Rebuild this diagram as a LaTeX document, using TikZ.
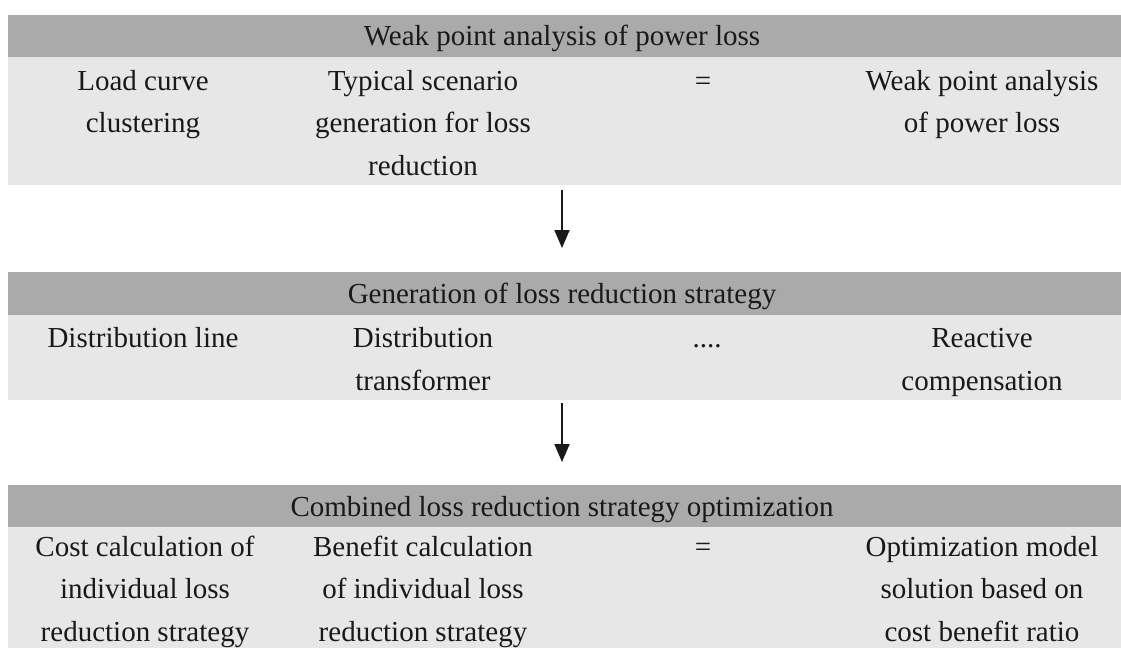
\documentclass[tikz,border=0pt]{standalone}
\usepackage{fontspec}
\setmainfont{Liberation Serif}
\usetikzlibrary{arrows.meta}
\definecolor{headgray}{RGB}{170,170,170}
\definecolor{bodygray}{RGB}{231,231,231}
\begin{document}
\begin{tikzpicture}[x=1pt,y=1pt,
  headbar/.style={fill=headgray, draw=none, rectangle, inner sep=0pt, anchor=north west, minimum width=1113pt},
  bodybar/.style={fill=bodygray, draw=none, rectangle, inner sep=0pt, anchor=north west, minimum width=1113pt},
  headtext/.style={font=\fontsize{29}{42.5}\selectfont, inner sep=0pt, anchor=base, text=black!90},
  celltext/.style={font=\fontsize{29}{42.5}\selectfont, inner sep=0pt, anchor=north, align=center, text=black!90},
  flowarrow/.style={line width=1.8pt, black!90, -{Triangle[width=15pt,length=18pt]}}
]
\useasboundingbox (0,0) rectangle (1121,-648);

% block 1
\node[headbar, minimum height=42pt] (h1) at (8,-15) {};
\node[bodybar, minimum height=128pt] (b1) at (8,-57) {};
\node[headtext] (t1) at (562,-45.5) {Weak point analysis of power loss};
\node[celltext] (c11) at (143,-60.25) {\strut Load curve\\clustering};
\node[celltext] (c12) at (423,-60.25) {\strut Typical scenario\\generation for loss\\reduction};
\node[celltext] (c13) at (703,-60.25) {\strut =};
\node[celltext] (c14) at (982,-60.25) {\strut Weak point analysis\\of power loss};

% arrow 1
\coordinate (a1s) at (562,-190);
\coordinate (a1e) at (562,-248);
\draw[flowarrow] (a1s) -- (a1e);

% block 2
\node[headbar, minimum height=43pt] (h2) at (8,-272) {};
\node[bodybar, minimum height=85pt] (b2) at (8,-315) {};
\node[headtext] (t2) at (562,-303) {Generation of loss reduction strategy};
\node[celltext] (c21) at (143,-318) {\strut Distribution line};
\node[celltext] (c22) at (423,-318) {\strut Distribution\\transformer};
\node[celltext] (c23) at (707,-318) {\strut ....};
\node[celltext] (c24) at (982,-318) {\strut Reactive\\compensation};

% arrow 2
\coordinate (a2s) at (562,-403);
\coordinate (a2e) at (562,-462);
\draw[flowarrow] (a2s) -- (a2e);

% block 3
\node[headbar, minimum height=42pt] (h3) at (8,-485) {};
\node[bodybar, minimum height=121pt] (b3) at (8,-527) {};
\node[headtext] (t3) at (562,-516) {Combined loss reduction strategy optimization};
\node[celltext] (c31) at (145,-526.5) {\strut Cost calculation of\\individual loss\\reduction strategy};
\node[celltext] (c32) at (423,-526.5) {\strut Benefit calculation\\of individual loss\\reduction strategy};
\node[celltext] (c33) at (703,-526.5) {\strut =};
\node[celltext] (c34) at (982,-526.5) {\strut Optimization model\\solution based on\\cost benefit ratio};
\end{tikzpicture}
\end{document}
